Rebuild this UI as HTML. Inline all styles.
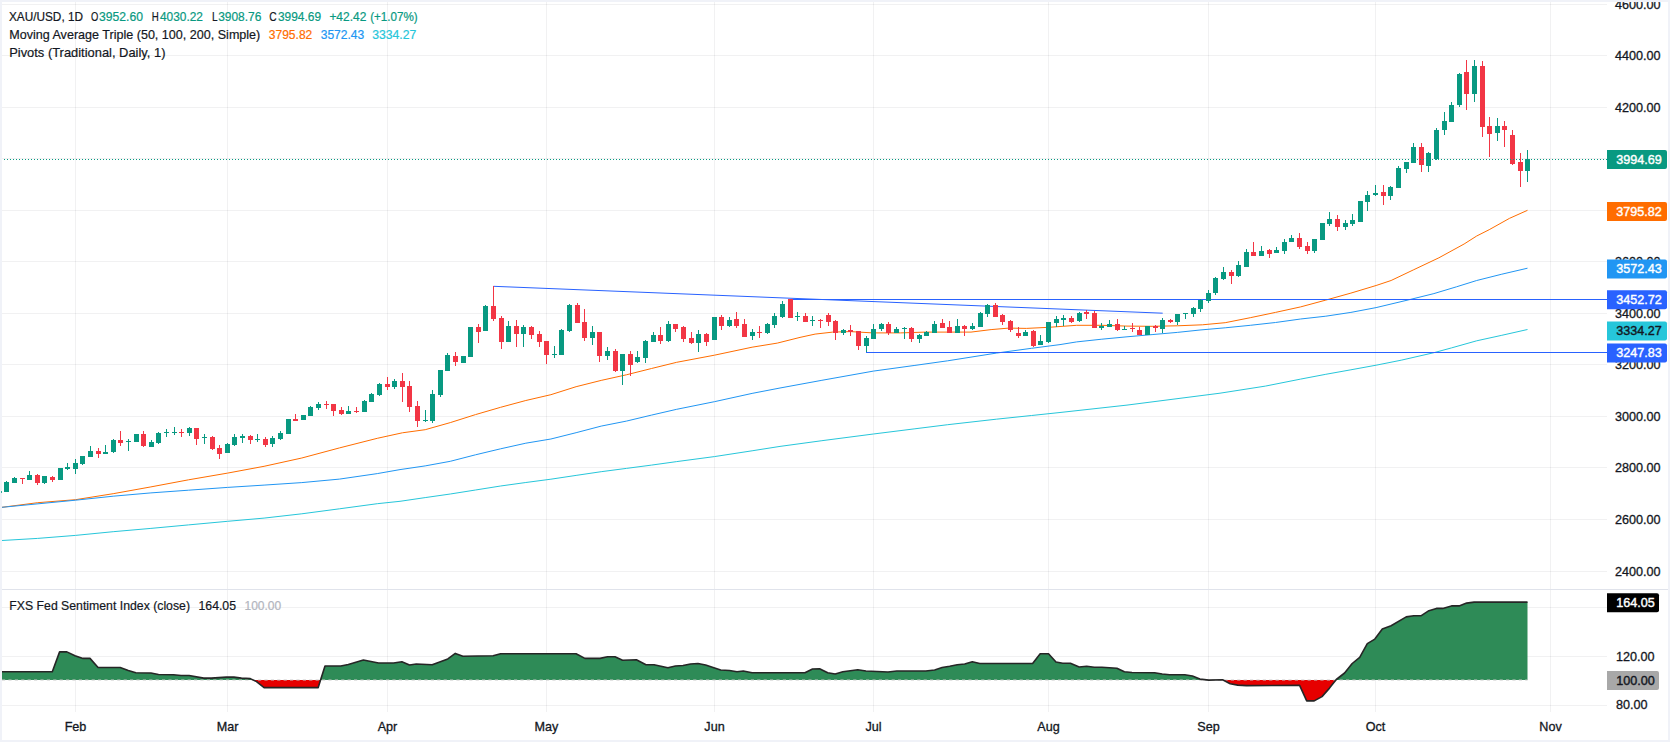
<!DOCTYPE html>
<html><head><meta charset="utf-8"><title>XAU/USD 1D</title><style>html,body{margin:0;padding:0;background:#fff;overflow:hidden}svg{display:block}</style></head><body>
<svg width="1670" height="742" viewBox="0 0 1670 742" font-family='"Liberation Sans", Arial, sans-serif'>
<rect width="1670" height="742" fill="#fff"/>
<g fill="rgba(42,46,57,0.065)" shape-rendering="crispEdges">
<rect x="75" y="2" width="1" height="710"/>
<rect x="227" y="2" width="1" height="710"/>
<rect x="387" y="2" width="1" height="710"/>
<rect x="546" y="2" width="1" height="710"/>
<rect x="714" y="2" width="1" height="710"/>
<rect x="873" y="2" width="1" height="710"/>
<rect x="1048" y="2" width="1" height="710"/>
<rect x="1208" y="2" width="1" height="710"/>
<rect x="1375" y="2" width="1" height="710"/>
<rect x="1550" y="2" width="1" height="710"/>
<rect x="2" y="571" width="1605" height="1"/>
<rect x="2" y="519" width="1605" height="1"/>
<rect x="2" y="467" width="1605" height="1"/>
<rect x="2" y="416" width="1605" height="1"/>
<rect x="2" y="364" width="1605" height="1"/>
<rect x="2" y="313" width="1605" height="1"/>
<rect x="2" y="261" width="1605" height="1"/>
<rect x="2" y="210" width="1605" height="1"/>
<rect x="2" y="158" width="1605" height="1"/>
<rect x="2" y="107" width="1605" height="1"/>
<rect x="2" y="55" width="1605" height="1"/>
<rect x="2" y="4" width="1605" height="1"/>
<rect x="2" y="607" width="1605" height="1"/>
<rect x="2" y="656" width="1605" height="1"/>
<rect x="2" y="705" width="1605" height="1"/>
</g>
<rect x="2" y="589" width="1666" height="1" fill="#e0e3eb" shape-rendering="crispEdges"/>
<polyline points="2.0,507.3 37.7,502.7 75.5,499.7 113.2,493.7 150.9,486.9 188.6,479.8 227.6,473.1 264.1,466.3 301.8,458.0 339.5,447.9 377.3,438.3 402.4,432.8 425.2,429.7 450.3,422.6 475.5,414.6 500.6,407.3 525.8,400.5 550.9,394.7 576.1,386.7 601.2,380.4 626.4,374.8 651.5,368.5 676.7,362.3 714.4,355.2 752.1,347.2 777.3,343.1 800.0,337.4 815.1,334.1 832.7,332.1 850.3,331.6 872.9,332.9 900.6,332.9 925.8,332.1 950.9,332.1 971.0,332.1 991.1,329.6 1008.8,328.1 1026.4,328.4 1049.0,327.3 1076.7,325.3 1101.8,325.3 1127.0,326.1 1152.1,326.3 1177.3,325.8 1202.4,324.8 1225.2,322.7 1250.3,317.7 1275.5,312.4 1300.6,306.9 1325.8,300.1 1350.9,293.1 1376.1,285.5 1391.1,280.5 1413.8,269.7 1438.9,257.8 1464.1,244.0 1476.7,236.0 1489.2,229.7 1509.4,218.4 1527.5,210.3" fill="none" stroke="#ff6d00" stroke-width="1" stroke-linejoin="round"/>
<polyline points="2.0,507.3 75.5,500.2 113.2,496.2 150.9,492.9 188.6,490.2 227.6,487.4 264.1,485.1 301.8,482.6 339.5,479.1 377.3,473.6 400.0,469.6 425.2,465.9 450.3,461.3 475.5,454.8 500.6,448.8 525.8,443.2 550.9,439.0 576.1,432.7 601.2,426.1 626.4,421.1 651.5,415.1 676.7,409.3 714.4,401.7 752.1,393.4 780.0,388.0 821.9,380.3 873.4,371.1 914.1,365.5 947.7,360.8 996.3,353.1 1031.5,348.3 1060.0,344.6 1076.7,341.9 1101.8,339.2 1127.0,336.8 1152.1,334.6 1177.3,332.4 1200.0,330.0 1225.2,327.8 1250.3,325.3 1275.5,322.5 1300.6,319.0 1325.8,316.2 1350.9,312.4 1376.1,307.6 1408.8,299.8 1433.9,293.6 1456.5,286.8 1476.7,280.5 1501.8,274.2 1527.5,268.2" fill="none" stroke="#2196f3" stroke-width="1" stroke-linejoin="round"/>
<polyline points="2.0,540.5 37.7,538.4 75.5,535.4 113.2,531.7 150.9,528.4 188.6,524.9 227.6,521.3 264.1,518.1 301.8,513.8 339.5,508.8 377.3,503.7 400.0,501.3 425.2,497.6 450.3,494.0 475.5,490.0 500.6,486.0 525.8,482.5 550.9,479.2 576.1,475.4 601.2,471.7 626.4,468.4 651.5,465.1 676.7,461.6 714.4,456.6 752.1,450.8 780.0,446.4 821.9,440.7 873.4,434.0 914.1,428.9 947.7,424.7 996.3,419.2 1031.5,415.5 1060.0,412.5 1127.0,405.1 1220.0,393.2 1265.4,386.1 1300.6,379.1 1325.8,374.3 1350.9,369.8 1376.1,365.2 1401.2,360.2 1433.9,352.7 1451.5,347.9 1476.7,340.8 1501.8,335.3 1527.5,329.5" fill="none" stroke="#26c6da" stroke-width="1" stroke-linejoin="round"/>
<g stroke="#2962ff" stroke-width="1" fill="none">
<line x1="493.5" y1="286.3" x2="1162.7" y2="313.2"/>
<line x1="790" y1="299.5" x2="1607" y2="299.5"/>
<line x1="866" y1="352.5" x2="1607" y2="352.5"/>
</g>
<g shape-rendering="crispEdges">
<rect x="6" y="481" width="1" height="11" fill="#089981"/>
<rect x="4" y="482" width="5" height="10" fill="#089981"/>
<rect x="14" y="477" width="1" height="6" fill="#089981"/>
<rect x="12" y="478" width="5" height="5" fill="#089981"/>
<rect x="22" y="478" width="1" height="6" fill="#f23645"/>
<rect x="20" y="478" width="5" height="1" fill="#f23645"/>
<rect x="29" y="471" width="1" height="9" fill="#089981"/>
<rect x="27" y="475" width="5" height="5" fill="#089981"/>
<rect x="37" y="474" width="1" height="11" fill="#f23645"/>
<rect x="35" y="475" width="5" height="8" fill="#f23645"/>
<rect x="44" y="476" width="1" height="8" fill="#089981"/>
<rect x="42" y="476" width="5" height="7" fill="#089981"/>
<rect x="52" y="476" width="1" height="6" fill="#f23645"/>
<rect x="50" y="477" width="5" height="3" fill="#f23645"/>
<rect x="60" y="468" width="1" height="12" fill="#089981"/>
<rect x="58" y="468" width="5" height="12" fill="#089981"/>
<rect x="67" y="463" width="1" height="7" fill="#089981"/>
<rect x="65" y="467" width="5" height="2" fill="#089981"/>
<rect x="75" y="459" width="1" height="15" fill="#089981"/>
<rect x="73" y="463" width="5" height="6" fill="#089981"/>
<rect x="82" y="456" width="1" height="9" fill="#089981"/>
<rect x="80" y="456" width="5" height="8" fill="#089981"/>
<rect x="90" y="446" width="1" height="11" fill="#089981"/>
<rect x="88" y="451" width="5" height="6" fill="#089981"/>
<rect x="98" y="448" width="1" height="10" fill="#f23645"/>
<rect x="96" y="451" width="5" height="3" fill="#f23645"/>
<rect x="105" y="445" width="1" height="9" fill="#089981"/>
<rect x="103" y="452" width="5" height="2" fill="#089981"/>
<rect x="113" y="439" width="1" height="14" fill="#089981"/>
<rect x="111" y="440" width="5" height="12" fill="#089981"/>
<rect x="120" y="431" width="1" height="15" fill="#f23645"/>
<rect x="118" y="440" width="5" height="3" fill="#f23645"/>
<rect x="128" y="439" width="1" height="12" fill="#089981"/>
<rect x="126" y="441" width="5" height="1" fill="#089981"/>
<rect x="136" y="434" width="1" height="8" fill="#089981"/>
<rect x="134" y="434" width="5" height="8" fill="#089981"/>
<rect x="143" y="431" width="1" height="16" fill="#f23645"/>
<rect x="141" y="434" width="5" height="12" fill="#f23645"/>
<rect x="151" y="440" width="1" height="7" fill="#089981"/>
<rect x="149" y="442" width="5" height="5" fill="#089981"/>
<rect x="158" y="432" width="1" height="12" fill="#089981"/>
<rect x="156" y="433" width="5" height="10" fill="#089981"/>
<rect x="166" y="429" width="1" height="8" fill="#089981"/>
<rect x="164" y="432" width="5" height="1" fill="#089981"/>
<rect x="174" y="427" width="1" height="8" fill="#089981"/>
<rect x="172" y="432" width="5" height="1" fill="#089981"/>
<rect x="181" y="429" width="1" height="8" fill="#f23645"/>
<rect x="179" y="432" width="5" height="1" fill="#f23645"/>
<rect x="189" y="427" width="1" height="9" fill="#089981"/>
<rect x="187" y="428" width="5" height="5" fill="#089981"/>
<rect x="196" y="428" width="1" height="17" fill="#f23645"/>
<rect x="194" y="428" width="5" height="11" fill="#f23645"/>
<rect x="204" y="434" width="1" height="10" fill="#089981"/>
<rect x="202" y="437" width="5" height="1" fill="#089981"/>
<rect x="212" y="436" width="1" height="14" fill="#f23645"/>
<rect x="210" y="437" width="5" height="12" fill="#f23645"/>
<rect x="219" y="445" width="1" height="14" fill="#f23645"/>
<rect x="217" y="448" width="5" height="6" fill="#f23645"/>
<rect x="227" y="443" width="1" height="10" fill="#089981"/>
<rect x="225" y="444" width="5" height="9" fill="#089981"/>
<rect x="234" y="434" width="1" height="12" fill="#089981"/>
<rect x="232" y="437" width="5" height="8" fill="#089981"/>
<rect x="242" y="434" width="1" height="9" fill="#089981"/>
<rect x="240" y="436" width="5" height="2" fill="#089981"/>
<rect x="250" y="435" width="1" height="9" fill="#f23645"/>
<rect x="248" y="436" width="5" height="4" fill="#f23645"/>
<rect x="257" y="434" width="1" height="8" fill="#089981"/>
<rect x="255" y="439" width="5" height="1" fill="#089981"/>
<rect x="265" y="437" width="1" height="10" fill="#f23645"/>
<rect x="263" y="439" width="5" height="6" fill="#f23645"/>
<rect x="272" y="436" width="1" height="11" fill="#089981"/>
<rect x="270" y="438" width="5" height="6" fill="#089981"/>
<rect x="280" y="431" width="1" height="9" fill="#089981"/>
<rect x="278" y="433" width="5" height="6" fill="#089981"/>
<rect x="288" y="419" width="1" height="15" fill="#089981"/>
<rect x="286" y="419" width="5" height="15" fill="#089981"/>
<rect x="295" y="414" width="1" height="7" fill="#f23645"/>
<rect x="293" y="419" width="5" height="2" fill="#f23645"/>
<rect x="303" y="415" width="1" height="5" fill="#089981"/>
<rect x="301" y="415" width="5" height="5" fill="#089981"/>
<rect x="310" y="406" width="1" height="10" fill="#089981"/>
<rect x="308" y="407" width="5" height="9" fill="#089981"/>
<rect x="318" y="402" width="1" height="8" fill="#089981"/>
<rect x="316" y="404" width="5" height="4" fill="#089981"/>
<rect x="326" y="401" width="1" height="8" fill="#f23645"/>
<rect x="324" y="404" width="5" height="1" fill="#f23645"/>
<rect x="333" y="404" width="1" height="12" fill="#f23645"/>
<rect x="331" y="404" width="5" height="7" fill="#f23645"/>
<rect x="341" y="407" width="1" height="8" fill="#f23645"/>
<rect x="339" y="410" width="5" height="4" fill="#f23645"/>
<rect x="348" y="406" width="1" height="8" fill="#089981"/>
<rect x="346" y="411" width="5" height="3" fill="#089981"/>
<rect x="356" y="407" width="1" height="6" fill="#f23645"/>
<rect x="354" y="411" width="5" height="1" fill="#f23645"/>
<rect x="364" y="400" width="1" height="12" fill="#089981"/>
<rect x="362" y="401" width="5" height="11" fill="#089981"/>
<rect x="371" y="393" width="1" height="9" fill="#089981"/>
<rect x="369" y="394" width="5" height="8" fill="#089981"/>
<rect x="379" y="383" width="1" height="13" fill="#089981"/>
<rect x="377" y="384" width="5" height="11" fill="#089981"/>
<rect x="387" y="377" width="1" height="13" fill="#f23645"/>
<rect x="385" y="384" width="5" height="3" fill="#f23645"/>
<rect x="394" y="379" width="1" height="10" fill="#089981"/>
<rect x="392" y="381" width="5" height="6" fill="#089981"/>
<rect x="402" y="373" width="1" height="29" fill="#f23645"/>
<rect x="400" y="381" width="5" height="6" fill="#f23645"/>
<rect x="409" y="381" width="1" height="31" fill="#f23645"/>
<rect x="407" y="386" width="5" height="21" fill="#f23645"/>
<rect x="417" y="401" width="1" height="26" fill="#f23645"/>
<rect x="415" y="406" width="5" height="15" fill="#f23645"/>
<rect x="425" y="410" width="1" height="12" fill="#089981"/>
<rect x="423" y="420" width="5" height="1" fill="#089981"/>
<rect x="432" y="390" width="1" height="33" fill="#089981"/>
<rect x="430" y="394" width="5" height="27" fill="#089981"/>
<rect x="440" y="370" width="1" height="27" fill="#089981"/>
<rect x="438" y="370" width="5" height="25" fill="#089981"/>
<rect x="447" y="353" width="1" height="18" fill="#089981"/>
<rect x="445" y="355" width="5" height="16" fill="#089981"/>
<rect x="455" y="352" width="1" height="14" fill="#f23645"/>
<rect x="453" y="356" width="5" height="6" fill="#f23645"/>
<rect x="463" y="356" width="1" height="7" fill="#089981"/>
<rect x="461" y="356" width="5" height="7" fill="#089981"/>
<rect x="470" y="327" width="1" height="30" fill="#089981"/>
<rect x="468" y="327" width="5" height="30" fill="#089981"/>
<rect x="478" y="324" width="1" height="19" fill="#f23645"/>
<rect x="476" y="327" width="5" height="5" fill="#f23645"/>
<rect x="485" y="305" width="1" height="26" fill="#089981"/>
<rect x="483" y="306" width="5" height="25" fill="#089981"/>
<rect x="493" y="286" width="1" height="35" fill="#f23645"/>
<rect x="491" y="306" width="5" height="13" fill="#f23645"/>
<rect x="501" y="316" width="1" height="33" fill="#f23645"/>
<rect x="499" y="318" width="5" height="24" fill="#f23645"/>
<rect x="508" y="321" width="1" height="21" fill="#089981"/>
<rect x="506" y="326" width="5" height="16" fill="#089981"/>
<rect x="516" y="320" width="1" height="27" fill="#f23645"/>
<rect x="514" y="326" width="5" height="8" fill="#f23645"/>
<rect x="523" y="325" width="1" height="22" fill="#089981"/>
<rect x="521" y="327" width="5" height="7" fill="#089981"/>
<rect x="531" y="326" width="1" height="13" fill="#f23645"/>
<rect x="529" y="327" width="5" height="8" fill="#f23645"/>
<rect x="539" y="331" width="1" height="16" fill="#f23645"/>
<rect x="537" y="334" width="5" height="8" fill="#f23645"/>
<rect x="546" y="341" width="1" height="23" fill="#f23645"/>
<rect x="544" y="341" width="5" height="14" fill="#f23645"/>
<rect x="554" y="346" width="1" height="12" fill="#089981"/>
<rect x="552" y="354" width="5" height="1" fill="#089981"/>
<rect x="561" y="329" width="1" height="26" fill="#089981"/>
<rect x="559" y="330" width="5" height="25" fill="#089981"/>
<rect x="569" y="304" width="1" height="28" fill="#089981"/>
<rect x="567" y="305" width="5" height="26" fill="#089981"/>
<rect x="577" y="303" width="1" height="20" fill="#f23645"/>
<rect x="575" y="305" width="5" height="18" fill="#f23645"/>
<rect x="584" y="309" width="1" height="32" fill="#f23645"/>
<rect x="582" y="322" width="5" height="16" fill="#f23645"/>
<rect x="592" y="326" width="1" height="19" fill="#089981"/>
<rect x="590" y="332" width="5" height="6" fill="#089981"/>
<rect x="599" y="332" width="1" height="30" fill="#f23645"/>
<rect x="597" y="332" width="5" height="24" fill="#f23645"/>
<rect x="607" y="347" width="1" height="13" fill="#089981"/>
<rect x="605" y="351" width="5" height="5" fill="#089981"/>
<rect x="615" y="349" width="1" height="23" fill="#f23645"/>
<rect x="613" y="351" width="5" height="20" fill="#f23645"/>
<rect x="622" y="354" width="1" height="31" fill="#089981"/>
<rect x="620" y="354" width="5" height="17" fill="#089981"/>
<rect x="630" y="351" width="1" height="25" fill="#f23645"/>
<rect x="628" y="354" width="5" height="11" fill="#f23645"/>
<rect x="637" y="351" width="1" height="12" fill="#089981"/>
<rect x="635" y="357" width="5" height="5" fill="#089981"/>
<rect x="645" y="340" width="1" height="23" fill="#089981"/>
<rect x="643" y="341" width="5" height="17" fill="#089981"/>
<rect x="653" y="332" width="1" height="10" fill="#089981"/>
<rect x="651" y="335" width="5" height="7" fill="#089981"/>
<rect x="660" y="327" width="1" height="17" fill="#f23645"/>
<rect x="658" y="335" width="5" height="6" fill="#f23645"/>
<rect x="668" y="321" width="1" height="21" fill="#089981"/>
<rect x="666" y="324" width="5" height="17" fill="#089981"/>
<rect x="675" y="324" width="1" height="8" fill="#f23645"/>
<rect x="673" y="324" width="5" height="5" fill="#f23645"/>
<rect x="683" y="326" width="1" height="16" fill="#f23645"/>
<rect x="681" y="327" width="5" height="12" fill="#f23645"/>
<rect x="691" y="332" width="1" height="12" fill="#f23645"/>
<rect x="689" y="338" width="5" height="5" fill="#f23645"/>
<rect x="698" y="330" width="1" height="22" fill="#089981"/>
<rect x="696" y="334" width="5" height="9" fill="#089981"/>
<rect x="706" y="333" width="1" height="13" fill="#f23645"/>
<rect x="704" y="334" width="5" height="8" fill="#f23645"/>
<rect x="714" y="317" width="1" height="23" fill="#089981"/>
<rect x="712" y="317" width="5" height="23" fill="#089981"/>
<rect x="721" y="315" width="1" height="15" fill="#f23645"/>
<rect x="719" y="317" width="5" height="9" fill="#f23645"/>
<rect x="729" y="317" width="1" height="10" fill="#089981"/>
<rect x="727" y="320" width="5" height="6" fill="#089981"/>
<rect x="736" y="312" width="1" height="16" fill="#f23645"/>
<rect x="734" y="319" width="5" height="7" fill="#f23645"/>
<rect x="744" y="319" width="1" height="18" fill="#f23645"/>
<rect x="742" y="324" width="5" height="13" fill="#f23645"/>
<rect x="752" y="329" width="1" height="11" fill="#089981"/>
<rect x="750" y="332" width="5" height="4" fill="#089981"/>
<rect x="759" y="326" width="1" height="12" fill="#f23645"/>
<rect x="757" y="332" width="5" height="1" fill="#f23645"/>
<rect x="767" y="323" width="1" height="11" fill="#089981"/>
<rect x="765" y="324" width="5" height="9" fill="#089981"/>
<rect x="774" y="313" width="1" height="15" fill="#089981"/>
<rect x="772" y="316" width="5" height="9" fill="#089981"/>
<rect x="782" y="301" width="1" height="17" fill="#089981"/>
<rect x="780" y="304" width="5" height="13" fill="#089981"/>
<rect x="790" y="299" width="1" height="19" fill="#f23645"/>
<rect x="788" y="299" width="5" height="19" fill="#f23645"/>
<rect x="797" y="312" width="1" height="9" fill="#089981"/>
<rect x="795" y="316" width="5" height="1" fill="#089981"/>
<rect x="805" y="313" width="1" height="9" fill="#f23645"/>
<rect x="803" y="316" width="5" height="6" fill="#f23645"/>
<rect x="812" y="316" width="1" height="10" fill="#089981"/>
<rect x="810" y="320" width="5" height="1" fill="#089981"/>
<rect x="820" y="319" width="1" height="9" fill="#f23645"/>
<rect x="818" y="320" width="5" height="1" fill="#f23645"/>
<rect x="828" y="313" width="1" height="13" fill="#f23645"/>
<rect x="826" y="315" width="5" height="7" fill="#f23645"/>
<rect x="835" y="320" width="1" height="20" fill="#f23645"/>
<rect x="833" y="321" width="5" height="12" fill="#f23645"/>
<rect x="843" y="329" width="1" height="6" fill="#089981"/>
<rect x="841" y="330" width="5" height="3" fill="#089981"/>
<rect x="850" y="325" width="1" height="11" fill="#f23645"/>
<rect x="848" y="330" width="5" height="2" fill="#f23645"/>
<rect x="858" y="331" width="1" height="19" fill="#f23645"/>
<rect x="856" y="331" width="5" height="15" fill="#f23645"/>
<rect x="866" y="336" width="1" height="16" fill="#089981"/>
<rect x="864" y="338" width="5" height="8" fill="#089981"/>
<rect x="873" y="324" width="1" height="15" fill="#089981"/>
<rect x="871" y="329" width="5" height="10" fill="#089981"/>
<rect x="881" y="323" width="1" height="8" fill="#089981"/>
<rect x="879" y="324" width="5" height="5" fill="#089981"/>
<rect x="888" y="322" width="1" height="13" fill="#f23645"/>
<rect x="886" y="324" width="5" height="9" fill="#f23645"/>
<rect x="896" y="327" width="1" height="6" fill="#089981"/>
<rect x="894" y="329" width="5" height="4" fill="#089981"/>
<rect x="904" y="327" width="1" height="12" fill="#089981"/>
<rect x="902" y="328" width="5" height="1" fill="#089981"/>
<rect x="911" y="327" width="1" height="15" fill="#f23645"/>
<rect x="909" y="328" width="5" height="11" fill="#f23645"/>
<rect x="919" y="334" width="1" height="9" fill="#089981"/>
<rect x="917" y="335" width="5" height="4" fill="#089981"/>
<rect x="926" y="331" width="1" height="5" fill="#089981"/>
<rect x="924" y="332" width="5" height="4" fill="#089981"/>
<rect x="934" y="321" width="1" height="12" fill="#089981"/>
<rect x="932" y="324" width="5" height="9" fill="#089981"/>
<rect x="942" y="319" width="1" height="9" fill="#f23645"/>
<rect x="940" y="323" width="5" height="5" fill="#f23645"/>
<rect x="949" y="321" width="1" height="12" fill="#f23645"/>
<rect x="947" y="327" width="5" height="6" fill="#f23645"/>
<rect x="957" y="319" width="1" height="14" fill="#089981"/>
<rect x="955" y="326" width="5" height="7" fill="#089981"/>
<rect x="964" y="325" width="1" height="11" fill="#f23645"/>
<rect x="962" y="326" width="5" height="3" fill="#f23645"/>
<rect x="972" y="323" width="1" height="7" fill="#089981"/>
<rect x="970" y="326" width="5" height="3" fill="#089981"/>
<rect x="980" y="312" width="1" height="15" fill="#089981"/>
<rect x="978" y="313" width="5" height="14" fill="#089981"/>
<rect x="987" y="304" width="1" height="13" fill="#089981"/>
<rect x="985" y="305" width="5" height="9" fill="#089981"/>
<rect x="995" y="303" width="1" height="14" fill="#f23645"/>
<rect x="993" y="305" width="5" height="12" fill="#f23645"/>
<rect x="1002" y="314" width="1" height="11" fill="#f23645"/>
<rect x="1000" y="315" width="5" height="7" fill="#f23645"/>
<rect x="1010" y="320" width="1" height="12" fill="#f23645"/>
<rect x="1008" y="321" width="5" height="9" fill="#f23645"/>
<rect x="1018" y="327" width="1" height="11" fill="#f23645"/>
<rect x="1016" y="333" width="5" height="3" fill="#f23645"/>
<rect x="1025" y="330" width="1" height="6" fill="#089981"/>
<rect x="1023" y="332" width="5" height="4" fill="#089981"/>
<rect x="1033" y="330" width="1" height="17" fill="#f23645"/>
<rect x="1031" y="331" width="5" height="15" fill="#f23645"/>
<rect x="1040" y="335" width="1" height="10" fill="#089981"/>
<rect x="1038" y="341" width="5" height="4" fill="#089981"/>
<rect x="1048" y="322" width="1" height="21" fill="#089981"/>
<rect x="1046" y="322" width="5" height="20" fill="#089981"/>
<rect x="1056" y="316" width="1" height="11" fill="#089981"/>
<rect x="1054" y="319" width="5" height="4" fill="#089981"/>
<rect x="1063" y="315" width="1" height="11" fill="#089981"/>
<rect x="1061" y="318" width="5" height="2" fill="#089981"/>
<rect x="1071" y="316" width="1" height="7" fill="#f23645"/>
<rect x="1069" y="318" width="5" height="4" fill="#f23645"/>
<rect x="1079" y="312" width="1" height="10" fill="#089981"/>
<rect x="1077" y="313" width="5" height="8" fill="#089981"/>
<rect x="1086" y="310" width="1" height="9" fill="#f23645"/>
<rect x="1084" y="312" width="5" height="2" fill="#f23645"/>
<rect x="1094" y="311" width="1" height="17" fill="#f23645"/>
<rect x="1092" y="313" width="5" height="15" fill="#f23645"/>
<rect x="1101" y="323" width="1" height="7" fill="#089981"/>
<rect x="1099" y="326" width="5" height="2" fill="#089981"/>
<rect x="1109" y="320" width="1" height="7" fill="#089981"/>
<rect x="1107" y="324" width="5" height="3" fill="#089981"/>
<rect x="1117" y="319" width="1" height="12" fill="#f23645"/>
<rect x="1115" y="324" width="5" height="6" fill="#f23645"/>
<rect x="1124" y="326" width="1" height="4" fill="#089981"/>
<rect x="1122" y="329" width="5" height="1" fill="#089981"/>
<rect x="1132" y="323" width="1" height="9" fill="#f23645"/>
<rect x="1130" y="328" width="5" height="1" fill="#f23645"/>
<rect x="1139" y="327" width="1" height="8" fill="#f23645"/>
<rect x="1137" y="330" width="5" height="5" fill="#f23645"/>
<rect x="1147" y="326" width="1" height="9" fill="#089981"/>
<rect x="1145" y="326" width="5" height="9" fill="#089981"/>
<rect x="1155" y="325" width="1" height="7" fill="#f23645"/>
<rect x="1153" y="326" width="5" height="2" fill="#f23645"/>
<rect x="1162" y="318" width="1" height="15" fill="#089981"/>
<rect x="1160" y="320" width="5" height="9" fill="#089981"/>
<rect x="1170" y="319" width="1" height="4" fill="#f23645"/>
<rect x="1168" y="320" width="5" height="2" fill="#f23645"/>
<rect x="1177" y="314" width="1" height="11" fill="#089981"/>
<rect x="1175" y="314" width="5" height="8" fill="#089981"/>
<rect x="1185" y="313" width="1" height="6" fill="#089981"/>
<rect x="1183" y="313" width="5" height="1" fill="#089981"/>
<rect x="1193" y="307" width="1" height="10" fill="#089981"/>
<rect x="1191" y="308" width="5" height="6" fill="#089981"/>
<rect x="1200" y="299" width="1" height="13" fill="#089981"/>
<rect x="1198" y="300" width="5" height="9" fill="#089981"/>
<rect x="1208" y="290" width="1" height="13" fill="#089981"/>
<rect x="1206" y="293" width="5" height="8" fill="#089981"/>
<rect x="1215" y="277" width="1" height="18" fill="#089981"/>
<rect x="1213" y="278" width="5" height="15" fill="#089981"/>
<rect x="1223" y="267" width="1" height="13" fill="#089981"/>
<rect x="1221" y="272" width="5" height="7" fill="#089981"/>
<rect x="1231" y="270" width="1" height="14" fill="#f23645"/>
<rect x="1229" y="272" width="5" height="4" fill="#f23645"/>
<rect x="1238" y="261" width="1" height="16" fill="#089981"/>
<rect x="1236" y="265" width="5" height="11" fill="#089981"/>
<rect x="1246" y="249" width="1" height="18" fill="#089981"/>
<rect x="1244" y="252" width="5" height="15" fill="#089981"/>
<rect x="1253" y="242" width="1" height="14" fill="#f23645"/>
<rect x="1251" y="252" width="5" height="4" fill="#f23645"/>
<rect x="1261" y="246" width="1" height="10" fill="#089981"/>
<rect x="1259" y="251" width="5" height="5" fill="#089981"/>
<rect x="1269" y="249" width="1" height="9" fill="#f23645"/>
<rect x="1267" y="250" width="5" height="4" fill="#f23645"/>
<rect x="1276" y="247" width="1" height="6" fill="#089981"/>
<rect x="1274" y="250" width="5" height="3" fill="#089981"/>
<rect x="1284" y="239" width="1" height="15" fill="#089981"/>
<rect x="1282" y="242" width="5" height="9" fill="#089981"/>
<rect x="1291" y="235" width="1" height="7" fill="#089981"/>
<rect x="1289" y="238" width="5" height="4" fill="#089981"/>
<rect x="1299" y="233" width="1" height="16" fill="#f23645"/>
<rect x="1297" y="238" width="5" height="9" fill="#f23645"/>
<rect x="1307" y="242" width="1" height="12" fill="#f23645"/>
<rect x="1305" y="246" width="5" height="5" fill="#f23645"/>
<rect x="1314" y="239" width="1" height="14" fill="#089981"/>
<rect x="1312" y="239" width="5" height="12" fill="#089981"/>
<rect x="1322" y="223" width="1" height="17" fill="#089981"/>
<rect x="1320" y="223" width="5" height="17" fill="#089981"/>
<rect x="1329" y="212" width="1" height="14" fill="#089981"/>
<rect x="1327" y="219" width="5" height="5" fill="#089981"/>
<rect x="1337" y="215" width="1" height="16" fill="#f23645"/>
<rect x="1335" y="219" width="5" height="8" fill="#f23645"/>
<rect x="1345" y="220" width="1" height="10" fill="#089981"/>
<rect x="1343" y="223" width="5" height="4" fill="#089981"/>
<rect x="1352" y="214" width="1" height="12" fill="#089981"/>
<rect x="1350" y="220" width="5" height="4" fill="#089981"/>
<rect x="1360" y="201" width="1" height="21" fill="#089981"/>
<rect x="1358" y="201" width="5" height="21" fill="#089981"/>
<rect x="1367" y="191" width="1" height="20" fill="#089981"/>
<rect x="1365" y="195" width="5" height="7" fill="#089981"/>
<rect x="1375" y="185" width="1" height="11" fill="#089981"/>
<rect x="1373" y="193" width="5" height="2" fill="#089981"/>
<rect x="1383" y="185" width="1" height="20" fill="#f23645"/>
<rect x="1381" y="192" width="5" height="4" fill="#f23645"/>
<rect x="1390" y="186" width="1" height="14" fill="#089981"/>
<rect x="1388" y="187" width="5" height="9" fill="#089981"/>
<rect x="1398" y="166" width="1" height="22" fill="#089981"/>
<rect x="1396" y="168" width="5" height="20" fill="#089981"/>
<rect x="1406" y="162" width="1" height="11" fill="#089981"/>
<rect x="1404" y="162" width="5" height="7" fill="#089981"/>
<rect x="1413" y="143" width="1" height="20" fill="#089981"/>
<rect x="1411" y="147" width="5" height="16" fill="#089981"/>
<rect x="1421" y="143" width="1" height="29" fill="#f23645"/>
<rect x="1419" y="147" width="5" height="18" fill="#f23645"/>
<rect x="1428" y="152" width="1" height="20" fill="#089981"/>
<rect x="1426" y="153" width="5" height="13" fill="#089981"/>
<rect x="1436" y="128" width="1" height="32" fill="#089981"/>
<rect x="1434" y="130" width="5" height="29" fill="#089981"/>
<rect x="1444" y="112" width="1" height="23" fill="#089981"/>
<rect x="1442" y="121" width="5" height="9" fill="#089981"/>
<rect x="1451" y="102" width="1" height="20" fill="#089981"/>
<rect x="1449" y="105" width="5" height="17" fill="#089981"/>
<rect x="1459" y="73" width="1" height="34" fill="#089981"/>
<rect x="1457" y="74" width="5" height="31" fill="#089981"/>
<rect x="1466" y="60" width="1" height="50" fill="#f23645"/>
<rect x="1464" y="72" width="5" height="22" fill="#f23645"/>
<rect x="1474" y="60" width="1" height="42" fill="#089981"/>
<rect x="1472" y="66" width="5" height="28" fill="#089981"/>
<rect x="1482" y="61" width="1" height="76" fill="#f23645"/>
<rect x="1480" y="66" width="5" height="61" fill="#f23645"/>
<rect x="1489" y="117" width="1" height="40" fill="#f23645"/>
<rect x="1487" y="126" width="5" height="8" fill="#f23645"/>
<rect x="1497" y="118" width="1" height="23" fill="#089981"/>
<rect x="1495" y="126" width="5" height="7" fill="#089981"/>
<rect x="1504" y="121" width="1" height="26" fill="#f23645"/>
<rect x="1502" y="126" width="5" height="4" fill="#f23645"/>
<rect x="1512" y="130" width="1" height="35" fill="#f23645"/>
<rect x="1510" y="135" width="5" height="29" fill="#f23645"/>
<rect x="1520" y="153" width="1" height="34" fill="#f23645"/>
<rect x="1518" y="162" width="5" height="9" fill="#f23645"/>
<rect x="1527" y="150" width="1" height="32" fill="#089981"/>
<rect x="1525" y="159" width="5" height="12" fill="#089981"/>
</g>
<line x1="1" y1="159.5" x2="1607" y2="159.5" stroke="#089981" stroke-width="1" stroke-dasharray="1 2" shape-rendering="crispEdges"/>
<defs><clipPath id="up"><rect x="0" y="590" width="1607" height="90"/></clipPath><clipPath id="dn"><rect x="0" y="680" width="1607" height="32"/></clipPath></defs>
<path d="M2.0,671.8 L52.3,671.8 L59.6,651.9 L66.9,651.9 L75.0,655.7 L83.0,658.4 L90.0,658.4 L98.1,667.5 L120.2,667.5 L128.3,670.5 L135.8,672.8 L150.9,673.0 L158.5,674.5 L173.5,674.8 L181.1,675.5 L189.1,675.5 L203.7,678.1 L211.3,678.1 L226.4,677.1 L233.9,677.1 L241.4,678.1 L250.3,678.6 L256.5,681.6 L264.1,687.6 L318.2,687.6 L325.0,666.0 L340.8,666.0 L348.3,664.5 L363.4,660.0 L378.5,663.0 L393.6,663.0 L401.9,661.7 L409.5,665.0 L416.3,664.0 L432.2,664.7 L447.8,658.9 L455.3,653.4 L462.9,656.2 L493.1,655.7 L500.6,653.7 L576.1,653.7 L584.9,658.4 L600.0,658.4 L607.5,656.7 L615.0,656.7 L622.6,660.2 L636.4,659.7 L646.0,664.7 L654.0,664.7 L667.9,667.7 L675.4,666.0 L683.0,665.5 L690.5,664.0 L698.0,663.5 L705.6,665.0 L713.1,667.5 L720.7,670.0 L729.5,670.5 L737.0,671.8 L743.3,671.0 L752.1,672.8 L804.9,672.8 L812.5,669.0 L819.6,668.8 L827.7,672.8 L835.2,674.0 L842.8,671.8 L857.8,669.8 L865.9,671.0 L888.0,672.0 L896.8,671.0 L925.8,671.0 L934.6,670.0 L942.1,667.5 L949.7,666.2 L957.2,664.7 L964.7,664.0 L972.3,661.7 L979.8,663.5 L1032.6,663.5 L1040.2,653.7 L1048.5,653.7 L1056.0,662.0 L1062.8,663.2 L1070.4,663.2 L1079.2,667.0 L1086.7,666.2 L1094.3,667.2 L1101.8,667.2 L1116.9,668.2 L1124.4,671.8 L1132.0,672.5 L1154.6,672.8 L1162.2,674.0 L1169.7,674.8 L1184.8,674.8 L1192.4,676.0 L1199.9,679.1 L1208.8,680.1 L1222.6,679.8 L1230.2,683.8 L1237.7,685.1 L1246.5,685.6 L1299.6,685.3 L1306.7,700.9 L1314.2,700.9 L1322.0,696.6 L1329.5,688.1 L1336.3,679.5 L1344.6,673.0 L1352.2,663.5 L1359.7,657.4 L1367.3,643.6 L1374.8,639.1 L1382.3,629.0 L1391.1,625.7 L1406.2,616.9 L1413.8,615.7 L1421.3,615.7 L1428.9,610.7 L1436.4,608.4 L1442.7,608.4 L1451.5,605.9 L1459.1,605.9 L1466.6,603.1 L1474.1,602.1 L1527.5,602.1 L1527.5,680 L2.0,680 Z" fill="#2e8b57" clip-path="url(#up)"/>
<path d="M2.0,671.8 L52.3,671.8 L59.6,651.9 L66.9,651.9 L75.0,655.7 L83.0,658.4 L90.0,658.4 L98.1,667.5 L120.2,667.5 L128.3,670.5 L135.8,672.8 L150.9,673.0 L158.5,674.5 L173.5,674.8 L181.1,675.5 L189.1,675.5 L203.7,678.1 L211.3,678.1 L226.4,677.1 L233.9,677.1 L241.4,678.1 L250.3,678.6 L256.5,681.6 L264.1,687.6 L318.2,687.6 L325.0,666.0 L340.8,666.0 L348.3,664.5 L363.4,660.0 L378.5,663.0 L393.6,663.0 L401.9,661.7 L409.5,665.0 L416.3,664.0 L432.2,664.7 L447.8,658.9 L455.3,653.4 L462.9,656.2 L493.1,655.7 L500.6,653.7 L576.1,653.7 L584.9,658.4 L600.0,658.4 L607.5,656.7 L615.0,656.7 L622.6,660.2 L636.4,659.7 L646.0,664.7 L654.0,664.7 L667.9,667.7 L675.4,666.0 L683.0,665.5 L690.5,664.0 L698.0,663.5 L705.6,665.0 L713.1,667.5 L720.7,670.0 L729.5,670.5 L737.0,671.8 L743.3,671.0 L752.1,672.8 L804.9,672.8 L812.5,669.0 L819.6,668.8 L827.7,672.8 L835.2,674.0 L842.8,671.8 L857.8,669.8 L865.9,671.0 L888.0,672.0 L896.8,671.0 L925.8,671.0 L934.6,670.0 L942.1,667.5 L949.7,666.2 L957.2,664.7 L964.7,664.0 L972.3,661.7 L979.8,663.5 L1032.6,663.5 L1040.2,653.7 L1048.5,653.7 L1056.0,662.0 L1062.8,663.2 L1070.4,663.2 L1079.2,667.0 L1086.7,666.2 L1094.3,667.2 L1101.8,667.2 L1116.9,668.2 L1124.4,671.8 L1132.0,672.5 L1154.6,672.8 L1162.2,674.0 L1169.7,674.8 L1184.8,674.8 L1192.4,676.0 L1199.9,679.1 L1208.8,680.1 L1222.6,679.8 L1230.2,683.8 L1237.7,685.1 L1246.5,685.6 L1299.6,685.3 L1306.7,700.9 L1314.2,700.9 L1322.0,696.6 L1329.5,688.1 L1336.3,679.5 L1344.6,673.0 L1352.2,663.5 L1359.7,657.4 L1367.3,643.6 L1374.8,639.1 L1382.3,629.0 L1391.1,625.7 L1406.2,616.9 L1413.8,615.7 L1421.3,615.7 L1428.9,610.7 L1436.4,608.4 L1442.7,608.4 L1451.5,605.9 L1459.1,605.9 L1466.6,603.1 L1474.1,602.1 L1527.5,602.1 L1527.5,680 L2.0,680 Z" fill="#e60000" clip-path="url(#dn)"/>
<line x1="2" y1="680" x2="1527.5" y2="680" stroke="#c8c8c8" stroke-width="1" stroke-dasharray="3.2 3.2"/>
<path d="M2.0,671.8 L52.3,671.8 L59.6,651.9 L66.9,651.9 L75.0,655.7 L83.0,658.4 L90.0,658.4 L98.1,667.5 L120.2,667.5 L128.3,670.5 L135.8,672.8 L150.9,673.0 L158.5,674.5 L173.5,674.8 L181.1,675.5 L189.1,675.5 L203.7,678.1 L211.3,678.1 L226.4,677.1 L233.9,677.1 L241.4,678.1 L250.3,678.6 L256.5,681.6 L264.1,687.6 L318.2,687.6 L325.0,666.0 L340.8,666.0 L348.3,664.5 L363.4,660.0 L378.5,663.0 L393.6,663.0 L401.9,661.7 L409.5,665.0 L416.3,664.0 L432.2,664.7 L447.8,658.9 L455.3,653.4 L462.9,656.2 L493.1,655.7 L500.6,653.7 L576.1,653.7 L584.9,658.4 L600.0,658.4 L607.5,656.7 L615.0,656.7 L622.6,660.2 L636.4,659.7 L646.0,664.7 L654.0,664.7 L667.9,667.7 L675.4,666.0 L683.0,665.5 L690.5,664.0 L698.0,663.5 L705.6,665.0 L713.1,667.5 L720.7,670.0 L729.5,670.5 L737.0,671.8 L743.3,671.0 L752.1,672.8 L804.9,672.8 L812.5,669.0 L819.6,668.8 L827.7,672.8 L835.2,674.0 L842.8,671.8 L857.8,669.8 L865.9,671.0 L888.0,672.0 L896.8,671.0 L925.8,671.0 L934.6,670.0 L942.1,667.5 L949.7,666.2 L957.2,664.7 L964.7,664.0 L972.3,661.7 L979.8,663.5 L1032.6,663.5 L1040.2,653.7 L1048.5,653.7 L1056.0,662.0 L1062.8,663.2 L1070.4,663.2 L1079.2,667.0 L1086.7,666.2 L1094.3,667.2 L1101.8,667.2 L1116.9,668.2 L1124.4,671.8 L1132.0,672.5 L1154.6,672.8 L1162.2,674.0 L1169.7,674.8 L1184.8,674.8 L1192.4,676.0 L1199.9,679.1 L1208.8,680.1 L1222.6,679.8 L1230.2,683.8 L1237.7,685.1 L1246.5,685.6 L1299.6,685.3 L1306.7,700.9 L1314.2,700.9 L1322.0,696.6 L1329.5,688.1 L1336.3,679.5 L1344.6,673.0 L1352.2,663.5 L1359.7,657.4 L1367.3,643.6 L1374.8,639.1 L1382.3,629.0 L1391.1,625.7 L1406.2,616.9 L1413.8,615.7 L1421.3,615.7 L1428.9,610.7 L1436.4,608.4 L1442.7,608.4 L1451.5,605.9 L1459.1,605.9 L1466.6,603.1 L1474.1,602.1 L1527.5,602.1" fill="none" stroke="#262626" stroke-width="1.6" stroke-linejoin="round"/>
<g font-size="12.6" fill="#131722" stroke="#131722" stroke-width="0.3">
<text x="1615" y="575.5">2400.00</text>
<text x="1615" y="524.0">2600.00</text>
<text x="1615" y="472.4">2800.00</text>
<text x="1615" y="420.8">3000.00</text>
<text x="1615" y="369.3">3200.00</text>
<text x="1615" y="317.8">3400.00</text>
<text x="1615" y="266.2">3600.00</text>
<text x="1615" y="214.6">3800.00</text>
<text x="1615" y="163.1">4000.00</text>
<text x="1615" y="111.5">4200.00</text>
<text x="1615" y="60.0">4400.00</text>
<text x="1615" y="8.5">4600.00</text>
<text x="1616" y="660.7">120.00</text>
<text x="1616" y="708.7">80.00</text>
<text x="75.5" y="731" text-anchor="middle">Feb</text>
<text x="227.5" y="731" text-anchor="middle">Mar</text>
<text x="387.5" y="731" text-anchor="middle">Apr</text>
<text x="546.5" y="731" text-anchor="middle">May</text>
<text x="714.5" y="731" text-anchor="middle">Jun</text>
<text x="873.5" y="731" text-anchor="middle">Jul</text>
<text x="1048.5" y="731" text-anchor="middle">Aug</text>
<text x="1208.5" y="731" text-anchor="middle">Sep</text>
<text x="1375.5" y="731" text-anchor="middle">Oct</text>
<text x="1550.5" y="731" text-anchor="middle">Nov</text>
</g>
<path d="M1607,259.5 h58 a2,2 0 0 1 2,2 v15 a2,2 0 0 1 -2,2 h-58 z" fill="#2196f3"/><text x="1616.3" y="273.4" font-size="12.6" fill="#fff" stroke="#fff" stroke-width="0.4">3572.43</text>
<path d="M1607,321.5 h58 a2,2 0 0 1 2,2 v15 a2,2 0 0 1 -2,2 h-58 z" fill="#26c6da"/><text x="1616.3" y="335.4" font-size="12.6" fill="#131722" stroke="#131722" stroke-width="0.4">3334.27</text>
<path d="M1607,290.3 h58 a2,2 0 0 1 2,2 v15 a2,2 0 0 1 -2,2 h-58 z" fill="#2962ff"/><text x="1616.3" y="304.2" font-size="12.6" fill="#fff" stroke="#fff" stroke-width="0.4">3452.72</text>
<path d="M1607,343.5 h58 a2,2 0 0 1 2,2 v15 a2,2 0 0 1 -2,2 h-58 z" fill="#2962ff"/><text x="1616.3" y="357.4" font-size="12.6" fill="#fff" stroke="#fff" stroke-width="0.4">3247.83</text>
<path d="M1607,202 h58 a2,2 0 0 1 2,2 v15 a2,2 0 0 1 -2,2 h-58 z" fill="#ff6d00"/><text x="1616.3" y="215.9" font-size="12.6" fill="#fff" stroke="#fff" stroke-width="0.4">3795.82</text>
<path d="M1607,150 h58 a2,2 0 0 1 2,2 v15 a2,2 0 0 1 -2,2 h-58 z" fill="#089981"/><text x="1616.3" y="163.9" font-size="12.6" fill="#fff" stroke="#fff" stroke-width="0.4">3994.69</text>
<path d="M1607,671 h50 a2,2 0 0 1 2,2 v15 a2,2 0 0 1 -2,2 h-50 z" fill="#a8a8a8"/><text x="1616.3" y="684.9" font-size="12.6" fill="#131722" stroke="#131722" stroke-width="0.4">100.00</text>
<path d="M1607,593.2 h50 a2,2 0 0 1 2,2 v15 a2,2 0 0 1 -2,2 h-50 z" fill="#000"/><text x="1616.3" y="607.1" font-size="12.6" fill="#fff" stroke="#fff" stroke-width="0.4">164.05</text>
<text x="9" y="20.9" font-size="12.4" fill="#131722" stroke="#131722" stroke-width="0.2" textLength="74.0" lengthAdjust="spacingAndGlyphs">XAU/USD, 1D</text>
<text x="90.9" y="20.9" font-size="12.2" fill="#131722" stroke="#131722" stroke-width="0.2" textLength="7.3" lengthAdjust="spacingAndGlyphs">O</text>
<text x="99.1" y="20.9" font-size="12.2" fill="#089981" stroke="#089981" stroke-width="0.2" textLength="43.9" lengthAdjust="spacingAndGlyphs">3952.60</text>
<text x="151.8" y="20.9" font-size="12.2" fill="#131722" stroke="#131722" stroke-width="0.2" textLength="7.0" lengthAdjust="spacingAndGlyphs">H</text>
<text x="160" y="20.9" font-size="12.2" fill="#089981" stroke="#089981" stroke-width="0.2" textLength="42.9" lengthAdjust="spacingAndGlyphs">4030.22</text>
<text x="211.9" y="20.9" font-size="12.2" fill="#131722" stroke="#131722" stroke-width="0.2" textLength="5.6" lengthAdjust="spacingAndGlyphs">L</text>
<text x="218.2" y="20.9" font-size="12.2" fill="#089981" stroke="#089981" stroke-width="0.2" textLength="43.2" lengthAdjust="spacingAndGlyphs">3908.76</text>
<text x="269.3" y="20.9" font-size="12.2" fill="#131722" stroke="#131722" stroke-width="0.2" textLength="7.4" lengthAdjust="spacingAndGlyphs">C</text>
<text x="278" y="20.9" font-size="12.2" fill="#089981" stroke="#089981" stroke-width="0.2" textLength="43.0" lengthAdjust="spacingAndGlyphs">3994.69</text>
<text x="329.4" y="20.9" font-size="12.2" fill="#089981" stroke="#089981" stroke-width="0.2" textLength="36.9" lengthAdjust="spacingAndGlyphs">+42.42</text>
<text x="370.2" y="20.9" font-size="12.2" fill="#089981" stroke="#089981" stroke-width="0.2" textLength="47.5" lengthAdjust="spacingAndGlyphs">(+1.07%)</text>
<text x="9.2" y="38.9" font-size="12.7" fill="#131722" stroke="#131722" stroke-width="0.2" textLength="251.1" lengthAdjust="spacingAndGlyphs">Moving Average Triple (50, 100, 200, Simple)</text>
<text x="268.8" y="38.9" font-size="12.2" fill="#ff6d00" stroke="#ff6d00" stroke-width="0.2" textLength="43.5" lengthAdjust="spacingAndGlyphs">3795.82</text>
<text x="320.7" y="38.9" font-size="12.2" fill="#2196f3" stroke="#2196f3" stroke-width="0.2" textLength="43.5" lengthAdjust="spacingAndGlyphs">3572.43</text>
<text x="372.3" y="38.9" font-size="12.2" fill="#26c6da" stroke="#26c6da" stroke-width="0.2" textLength="44.0" lengthAdjust="spacingAndGlyphs">3334.27</text>
<text x="9.2" y="56.7" font-size="12.7" fill="#131722" stroke="#131722" stroke-width="0.2" textLength="156.3" lengthAdjust="spacingAndGlyphs">Pivots (Traditional, Daily, 1)</text>
<text x="9.3" y="610.2" font-size="12.7" fill="#131722" stroke="#131722" stroke-width="0.2" textLength="180.7" lengthAdjust="spacingAndGlyphs">FXS Fed Sentiment Index (close)</text>
<text x="198.5" y="610.2" font-size="12.2" fill="#131722" stroke="#131722" stroke-width="0.2" textLength="37.5" lengthAdjust="spacingAndGlyphs">164.05</text>
<text x="244.5" y="610.2" font-size="12.2" fill="#b2b5be" stroke="#b2b5be" stroke-width="0.2" textLength="36.7" lengthAdjust="spacingAndGlyphs">100.00</text>
<path d="M0,0 H1670 V742 H0 Z M2,2 V740 H1668 V2 Z" fill="#f0f2f8" fill-rule="evenodd"/>
<rect x="1" y="491" width="1" height="2" fill="#089981" opacity="0.8"/>
</svg>
</body></html>
